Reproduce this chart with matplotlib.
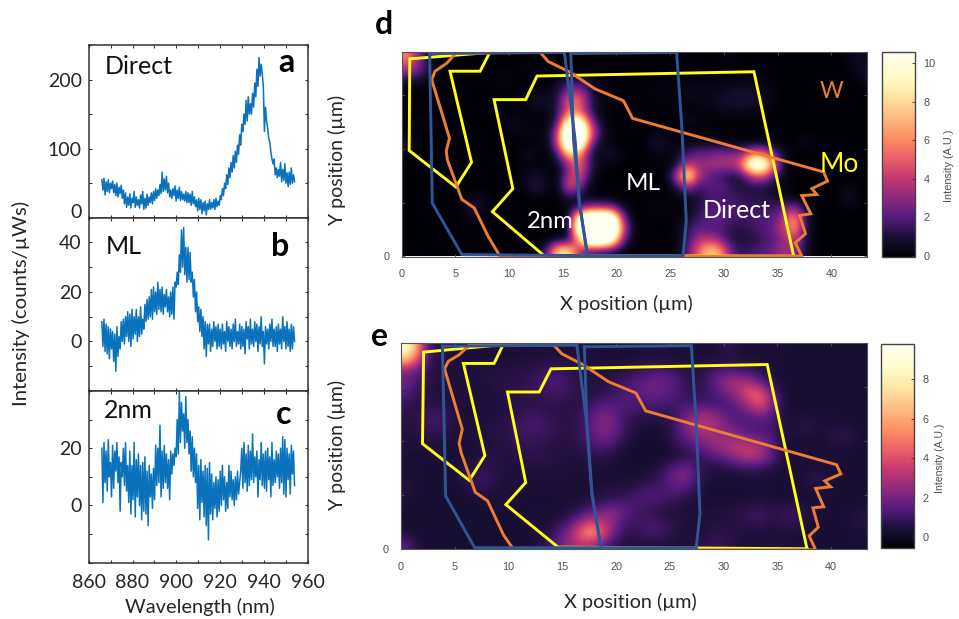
import numpy as np
import matplotlib
matplotlib.use("Agg")
import matplotlib.pyplot as plt
from matplotlib.colors import LinearSegmentedColormap
from matplotlib.ticker import MultipleLocator, FixedLocator

W, H = 959, 619
SANS = "Lato"
ARIAL = "Liberation Sans"

spec_direct = [55,40,57,33,52,38,55,36,50,42, 53,36,48,32,50,30,44,35,47,28,
 40,20,36,15,30,18,35,14,28,22, 38,15,30,18,26,14,33,20,38,12,
 28,14,34,18,30,22,36,20,38,25, 42,28,40,32,48,35,66,38,56,40,
 60,36,50,30,40,28,42,32,46,24, 40,28,44,25,38,26,34,24,38,22,
 36,22,34,18,38,20,30,16,26,10, 28,12,26,6,22,10,24,4,20,12,
 26,12,22,14,26,12,28,16,24,18, 32,26,42,32,50,42,62,48,72,58,
 80,66,90,72,96,80,105,92,120,105, 135,125,150,135,170,140,175,150,165,150,
 180,160,195,175,215,190,232,205,222,208, 190,125,160,140,130,115,110,95,85,78,
 85,62,72,58,70,60,80,52,70,54, 78,50,65,45,66,48,72,50,62,52]

spec_ml = [8,-2,9,-4,7,-5,6,-7,5,-3, 4,-8,3,-12,6,-6,2,-3,8,0,
 9,-1,10,2,12,0,11,-2,13,1, 10,3,13,0,10,2,14,3,9,5,
 15,8,17,9,18,10,21,9,22,12, 20,11,24,13,21,12,22,11,19,14,
 21,12,18,10,20,11,22,9,24,22, 28,23,35,28,45,30,46,27,38,24,
 38,25,36,24,28,18,25,12,20,8, 14,4,13,2,10,-3,8,-6,7,-1,
 7,-4,5,-2,8,0,6,-3,7,-2, 5,-3,7,-1,4,-4,8,0,6,-2,
 5,-3,7,0,9,-2,4,-1,7,-3, 6,-2,5,-5,8,1,6,-3,9,-1,
 5,-2,8,0,7,-4,6,-1,10,-2, 4,-9,6,-1,5,-3,7,0,9,-2,
 5,-2,6,-4,7,-1,5,-3,10,0, 6,-3,8,-2,5,-4,7,-3,6,0]

spec_2nm = [20,1,22,8,19,5,23,10,15,3, 21,6,19,12,22,8,17,-2,15,10,
 20,7,22,5,14,1,19,-3,14,2, 22,-4,16,3,18,0,14,-5,15,-2,
 17,-3,12,-7,14,3,11,-1,13,2, 21,7,20,8,28,3,19,6,21,8,
 18,6,16,2,19,11,18,14,20,17, 30,18,40,22,36,26,32,20,38,22,
 30,18,26,12,24,10,20,8,18,-1, 14,-5,16,1,12,-4,14,-7,13,-12,
 15,-3,11,-5,8,-1,10,-4,9,-2, 12,0,14,2,10,-2,8,-1,14,3,
 12,2,9,0,10,2,12,4,8,12, 20,6,22,8,18,5,21,7,19,9,
 25,8,17,10,19,3,16,9,22,7, 18,6,19,5,20,9,17,3,22,7,
 16,8,19,10,18,6,20,8,24,4, 23,3,20,9,18,4,21,11,19,7]

map_d = [
 [6,3,.6,.1,0,0,0,0,0,0, 0,0,0,0,0,0,0,0,0,0, 0,0,0,0,0,0,0,0,0,.2, .3,0,0,0,0,0,0,0,0,0, 0,.3,.6,.3],
 [4,3,1,.2,0,0,0,0,0,0, 0,.3,.1,0,0,0,0,0,0,0, 0,0,0,0,0,0,0,0,0,0, 0,0,0,0,0,0,0,0,0,0, 0,.1,.5,.8],
 [1.2,1,.3,0,0,0,0,0,.1,.5, 0,.1,0,0,.4,.8,1,.5,.2,.1, .1,.1,0,.1,.2,.1,.2,.2,.2,.3, .2,.2,.2,.2,.1,0,0,0,0,0, 0,0,.2,1],
 [.1,0,0,0,0,0,0,0,0,0, 0,.1,.1,.1,.8,2.8,3,1,.2,.1, 0,0,0,.2,.2,.2,.4,.4,.3,.3, .5,.7,.6,.5,.2,0,0,0,0,0, 0,0,0,.2],
 [0,0,0,0,0,0,0,0,0,0, 0,.3,1,.6,1.1,5.5,6,1.4,.3,.1, 0,0,.1,.1,.1,.2,.3,.3,.4,.7, 1,1.1,1,.7,.2,0,0,0,0,0, 0,0,0,0],
 [0,0,0,0,0,0,0,0,0,0, 0,.1,.2,.2,1.3,5,5,1.4,.3,.1, 0,0,0,.1,.1,.1,.2,.1,.2,.3, .3,.3,.3,.3,.1,0,0,0,0,0, 0,0,0,0],
 [0,.3,.5,0,0,0,0,0,0,.3, .6,.1,.1,.1,1.4,11,12,3.5,.3,.1, 0,0,0,0,0,0,.6,.3,.1,.1, .1,.1,.1,.1,0,0,0,0,0,0, 0,0,0,0],
 [0,0,0,0,0,0,0,0,0,0, .2,.3,.4,.2,4,16,16,6,1,.1, .1,0,0,.1,.2,0,0,0,0,0, 0,0,0,0,.1,0,0,0,0,0, 0,0,0,0],
 [1.2,.1,0,0,0,0,0,0,0,0, 0,0,.2,.1,4,15,14,3,.4,.1, 0,0,0,1,.7,0,.3,.5,.5,.4, .3,.2,.2,.3,.2,0,0,.6,.2,0, 0,0,0,0],
 [.3,0,0,0,0,0,0,0,0,0, 0,.6,.3,.1,1.5,8,6,1,.4,1, .1,0,0,.2,.1,.5,1.8,2.4,2.5,3, 2.8,3,5,6,2.5,.6,0,0,0,0, 0,0,0,0],
 [0,0,0,0,0,0,0,0,0,0, 0,.1,.1,.1,.2,3,6,1.5,.3,.1, 0,0,.1,.1,.1,.5,4,3,3.4,3.6, 3.8,5,13,13,6,.6,0,0,0,0, 0,0,0,0],
 [0,0,0,0,0,0,0,0,0,0, 0,.3,.8,.2,.1,3.5,5,.8,.1,0, 0,0,0,0,0,3.5,11,4,2.2,1.6, 1,1,4,5,2,.4,0,0,0,0, 0,0,0,0],
 [0,0,0,0,0,0,0,0,0,0, 0,.3,1.5,.3,.1,5,3,.3,0,0, 0,0,0,0,0,1,3.5,1.6,2,2.2, 1.4,1,1,1,.7,.2,0,0,0,0, 0,.3,0,0],
 [0,0,0,0,0,0,.3,.3,0,0, 0,0,.1,.1,.1,1,.6,.1,0,0, 0,.1,.1,0,0,.2,.5,1,1.6,1.8, 1.6,1.4,1.3,1.2,1,.5,0,0,0,0, 0,.8,.2,0],
 [0,0,0,0,0,0,1.5,.5,0,0, 0,0,0,0,0,.2,1.4,3,3,2.5, .6,0,0,.3,.2,.1,.3,1,1.9,2, 1.9,1.7,1.5,1.5,1.5,2,3,.8,0,0, 0,.2,0,0],
 [0,0,0,0,0,0,.3,.1,0,0, 0,0,0,0,.1,.3,12,16,16,15, 3,.1,0,.1,.1,.1,.7,1.6,2.3,2.3, 1.8,1.6,1.7,1.9,2,4,7,1,0,0, 0,0,0,0],
 [0,0,0,0,0,0,0,0,0,0, 0,0,0,0,.1,.3,13,16,16,16, 5,.2,.1,0,0,.2,1.3,2.2,1.9,1.8, 1.2,1.2,1.5,1.9,2.4,4,7,1.2,0,0, 0,0,0,0],
 [0,0,0,0,0,0,0,0,0,0, 0,0,0,.1,.2,.6,7,15,15,12, 2.5,.2,.1,0,0,.1,1.3,3.5,4,3, 1.2,.9,1,1.5,2,3,4,.8,0,0, 0,0,0,0],
 [.1,.1,0,0,0,0,0,0,0,0, 0,0,.2,2,9,9,3,1.5,1,.6, .2,0,0,0,0,.1,2,5,8,7, 2.5,1.4,1.7,2,2.5,3.5,3.2,.8,0,0, 0,0,0,0],
]

map_e = [
 [9,6,1.2,.6,.5,.45,.45,.45,.45,.45, .45,.45,.45,.45,.45,.45,.5,.5,.45,.45, .45,.45,.45,.55,.5,.45,.5,.45,.45,.45, .9,.5,.45,.45,.45,.45,.4,.4,.4,.4, .4,.4,.4,.4],
 [6.5,4,1,.6,.55,.5,.5,.5,.5,.5, .5,.5,.55,.6,.6,.55,.55,.55,.5,.5, .5,.5,.55,.6,.6,.5,.5,.5,.55,.55, .55,.5,.5,.5,.45,.45,.4,.4,.4,.4, .4,.4,.4,.4],
 [2,1.5,.8,.55,.5,.5,.5,.55,.6,.6, .6,.7,.8,1,1,.8,.6,.55,.55,.55, .6,.7,1,1.2,1.2,.9,.6,.55,.8,1.3, 1.5,1.2,.9,.7,.5,.45,.4,.4,.4,.4, .4,.4,.4,.4],
 [2,1.2,.7,.55,.5,.5,.5,.55,.6,.7, .7,.8,1,1.2,1.3,1,.7,.6,.6,.7, 1,1.3,1.6,1.9,1.9,1.5,.8,.7,1.1,2, 2.6,3,2.6,1.4,.55,.45,.4,.4,.4,.4, .4,.4,.4,.4],
 [1.4,.8,.6,.55,.55,.5,.5,.5,.55,.6, .7,.8,.9,1,1.1,.9,.7,.6,.7,.9, 1.1,1.4,1.7,1.9,1.7,1.3,.9,.7,1,1.5, 2.2,3,4.6,4.2,1.5,.5,.4,.4,.4,.4, .4,.4,.4,.4],
 [.9,.7,.7,.6,.55,.5,.5,.5,.5,.55, .6,.7,.7,.7,.8,.7,.7,.8,1.2,1.4, 1.4,1.4,1.3,1.3,1.2,1.1,1.1,1.1,1.1,1.1, 1.4,2,3.2,4.6,2.2,.55,.4,.4,.4,.4, .4,.4,.4,.4],
 [.7,.7,1,1.1,.7,.5,.45,.5,.55,.55, .7,.9,1,.8,.7,.7,.8,1.3,2,2, 1.3,.9,.8,.8,.7,.9,1.8,2.4,2.6,2.1, 1.4,1.4,1.7,2.1,1.4,.55,.45,.45,.45,.5, .45,.45,.4,.4],
 [.6,.7,1,1.1,.7,.5,.5,.55,.6,.7, .9,1.1,1.2,1,.8,.7,.8,1.4,2.2,2.1, 1.2,.7,.55,.5,.55,1.1,2.2,3.2,3.2,2.5, 2,1.4,1.3,1.3,1.1,.6,.45,.8,.55,.45, .45,.45,.45,.4],
 [.55,.6,.7,.7,.55,.5,.5,.55,.6,.7, .9,1,1,.9,.8,.7,.8,1.3,2,1.9, 1,.55,.35,.3,.45,.9,1.8,2.3,2.7,2.7, 2.5,2.2,1.6,1.5,1.1,.6,.45,.5,.45,.5, .8,.8,.5,.4],
 [.5,.5,.55,.55,.5,.45,.45,.5,.55,.6, .7,.8,.8,.7,.6,.6,.7,1,1.3,1.1, .6,.35,.3,.3,.35,.7,1.1,1.5,2.1,2.7, 3,3.4,3.4,2.8,1.6,.55,.45,.45,.45,.45, .5,.5,.45,.4],
 [.5,.45,.45,.45,.45,.45,.5,.6,.7,.6, .6,.7,.8,.8,.6,.55,.55,.6,.7,.55, .45,.3,.3,.3,.35,.5,.6,.9,1.1,1.4, 2,2.8,3.1,2.8,1.5,.5,.45,.45,.45,.45, .45,.45,.4,.4],
 [.45,.45,.45,.45,.45,.5,.6,.8,.7,.55, .5,.55,.55,.55,.5,.5,.5,.5,.5,.45, .4,.4,.4,.5,.8,1.5,2.1,1.1,.55,.55, .6,.8,.9,.8,.55,.45,.45,.45,.55,.45, .45,.4,.4,.4],
 [.5,.45,.4,.45,.45,.55,.9,1,.8,.55, .5,.5,.5,.5,.5,.5,.45,.45,.45,.45, .45,.45,.5,.8,1.2,2,2.2,1.1,.5,.45, .45,.45,.45,.45,.45,.45,.45,.5,.8,.5, .45,.4,.4,.4],
 [.6,.45,.4,.4,.4,.45,.6,.7,.6,.5, .5,.45,.45,.45,.45,.45,.45,.45,.5,.6, .6,.8,1,1.2,1.2,1.4,1.2,.6,.45,.4, .4,.4,.45,.45,.4,.4,.45,.45,.5,.45, .45,.4,.4,.4],
 [.5,.4,.4,.4,.4,.4,.45,.5,.5,.45, .45,.45,.45,.45,.45,.45,.5,.55,.6,.9, 1,1.2,1.4,1.3,1.1,.9,.6,.5,.45,.4, .45,.45,.5,.5,.5,.45,.45,.45,.45,.45, .45,.4,.4,.4],
 [.4,.4,.4,.4,.4,.4,.4,.4,.4,.4, .45,.45,.45,.45,.45,.5,.8,1.3,1.9,2.4, 1.9,1.2,.9,.7,.55,.5,.5,.5,.5,.55, .55,.7,.9,1,.7,.8,1,.6,.5,.45, .45,.45,.6,.6],
 [.4,.4,.4,.4,.4,.4,.4,.4,.4,.4, .4,.45,.45,.5,.6,1,2.2,3.6,3.2,2.6, 1.4,1,1.1,1.2,.9,.7,.55,.5,.5,.55, .6,.7,.8,1,.6,.8,.9,.55,.45,.45, .4,.45,.6,.6],
 [.45,.4,.4,.4,.4,.4,.4,.4,.4,.4, .4,.4,.45,.55,1.2,2.2,4.2,6,5,2.4, 1,.8,1,1.3,1,.6,.5,.5,.6,.8, .7,.55,.5,.5,.45,.5,.5,.45,.45,.45, .4,.45,.45,.45],
 [1.5,.6,.4,.4,.4,.4,.4,.4,.4,.4, .4,.4,.5,.8,1.5,2.5,3,3,2,1, .6,.55,.55,.5,.5,.5,.5,.6,.8,.9, .7,.55,.5,.45,.55,.55,.45,.45,.45,.45, .45,.45,.45,.45],
]

yellow_d_inner = [(36.5,0),(32.8,17.2),(12.6,16.8),(11.55,14.6),(8.6,14.6),(10.35,6.3),(8.45,4.15),(13.25,0.05)]
yellow_d_outer = [(8.2,19.0),(7.3,17.25),(4.5,17.25),(6.5,8.75),(5.05,6.45),(0.7,9.85),(0.75,18.4)]
blue_d_left = [(2.6,18.9),(15.15,19.0),(16.15,10.85),(16.55,4.95),(17.3,0.05),(5.6,0.15),(2.85,4.95)]
blue_d_right = [(15.75,18.9),(25.6,19.0),(26.1,11.8),(26.5,3.25),(26.2,0.05),(17.3,0.05),(16.55,4.95),(16.0,10.85)]
orange_d = [(12.9,19.0),(13.65,18.15),(15.7,17.15),(18.0,15.6),(20.65,14.5),(21.5,12.85),(39.3,7.85),(39.65,7.0),
 (38.2,6.3),(38.65,5.75),(37.25,5.65),(38.1,3.95),(37.05,3.8),(37.6,2.1),(36.65,1.25),(37.25,0),(9.15,0),(8.05,1.85),
 (6.75,4.5),(5.6,5.3),(4.25,9.0),(4.15,9.8),(4.45,11.0),(2.8,16.45),(3.1,17.25),(4.2,18.0),(5.05,18.95)]

yellow_e_inner = [(37.75,0),(34.05,17.1),(13.95,16.7),(12.85,14.55),(9.9,14.55),(11.6,6.15),(9.75,4.1),(14.6,0.15)]
yellow_e_outer = [(9.5,18.95),(8.65,17.2),(5.8,17.2),(7.8,8.65),(6.35,6.35),(2.0,9.75),(2.1,18.25)]
blue_e_left = [(3.85,18.8),(16.35,18.9),(17.35,11.0),(17.75,5.1),(18.6,0.1),(6.85,0.1),(4.15,4.9)]
blue_e_right = [(17.05,18.75),(27.0,18.85),(27.45,11.6),(27.8,3.25),(27.45,0.1),(18.6,0.1),(17.75,5.1),(17.3,11.0)]
orange_e = [(14.2,18.9),(14.95,18.1),(16.9,17.1),(19.3,15.5),(21.85,14.45),(22.75,12.8),(40.5,7.8),(40.9,6.95),
 (39.4,6.3),(39.95,5.75),(38.55,5.6),(39.3,3.9),(38.3,3.8),(38.8,2.0),(37.95,1.2),(38.55,-0.1),(10.5,-0.1),(9.55,1.25),
 (8.05,4.45),(6.9,5.25),(5.6,8.9),(5.4,9.8),(5.7,11.1),(4.05,16.7),(4.4,17.4),(5.4,18.0),(6.35,18.9)]

wl_ticks = [860,880,900,920,940,960]
map_x_ticks = [0,5,10,15,20,25,30,35,40]

BLUE = "#0a72bd"; YEL = "#ffff1a"; NAVY = "#2f5597"; ORG = "#ed7d31"
cmap = LinearSegmentedColormap.from_list("map", [
    (0.0,"#000004"),(0.09,"#170f32"),(0.19,"#541a7d"),(0.29,"#8f2a7e"),(0.39,"#c93a6f"),
    (0.48,"#ea5f68"),(0.57,"#fd8a60"),(0.68,"#febb80"),(0.79,"#fde7a6"),(0.88,"#fffbc8"),(1.0,"#fffff0")])

fig = plt.figure(figsize=(W/100, H/100), dpi=100, facecolor="white")

def make_ax(l, t, r, b):
    return fig.add_axes([l/W, 1-b/H, (r-l)/W, (b-t)/H])

def label(x, y, s, **kw):
    kw.setdefault("family", SANS)
    kw.setdefault("ha", "center"); kw.setdefault("va", "center")
    fig.text(x/W, 1-y/H, s, **kw)

x_edges = [88.7, 307.7]
rows = [(45, 217.7, spec_direct, (0,250), [0,100,200], 50),
        (217.7, 391, spec_ml, (-20,50), [0,20,40], 10),
        (391, 562.7, spec_2nm, (-20,40), [0,20], 10)]
for i, (t, b, y, lim, maj, minor) in enumerate(rows):
    ax = make_ax(x_edges[0], t, x_edges[1], b)
    ax.plot(np.linspace(866, 954, len(y)), y, color=BLUE, lw=1.1)
    ax.set_xlim(860, 960); ax.set_ylim(*lim)
    ax.yaxis.set_major_locator(FixedLocator(maj))
    ax.yaxis.set_minor_locator(MultipleLocator(minor))
    ax.xaxis.set_major_locator(FixedLocator(wl_ticks))
    ax.xaxis.set_minor_locator(MultipleLocator(10))
    ax.tick_params(which="both", direction="in", top=True, right=True, length=2.5, width=0.8, color="#333333")
    ax.tick_params(axis="y", labelsize=14, labelcolor="#262626", pad=5)
    ax.tick_params(axis="x", labelsize=14, labelcolor="#262626", pad=8)
    for lab in ax.get_xticklabels()+ax.get_yticklabels():
        lab.set_family(SANS)
    if i == 0:
        ax.get_yticklabels()[0].set_va("baseline")
    if i < 2:
        ax.tick_params(axis="x", labelbottom=False)
    for s in ax.spines.values():
        s.set_color("#333333"); s.set_linewidth(1.1)

label(139, 66, "Direct", fontsize=18, color="#111111")
label(124, 247, "ML", fontsize=18, color="#111111")
label(128, 411, "2nm", fontsize=18, color="#111111")
label(286, 62, "a", fontsize=23, fontweight="bold", color="black")
label(280, 247, "b", fontsize=23, fontweight="bold", color="black")
label(284, 415, "c", fontsize=23, fontweight="bold", color="black")
label(384, 24, "d", fontsize=23, fontweight="bold", color="black")
label(380, 336, "e", fontsize=23, fontweight="bold", color="black")
label(21, 303, "Intensity (counts/µWs)", fontsize=14.6, rotation=90, color="#262626")
label(200, 607, "Wavelength (nm)", fontsize=14.4, color="#262626")

def heat(box, data, vmin, vmax, cbox, cticks, overlays):
    ax = make_ax(*box)
    im = ax.imshow(np.array(data), cmap=cmap, vmin=vmin, vmax=vmax, extent=(0,44,0,19),
                   origin="upper", aspect="auto", interpolation="bicubic")
    ax.set_xlim(0, 43.3); ax.set_ylim(-0.05, 19.07)
    for pts, col in overlays:
        p = np.array(pts + pts[:1])
        ax.plot(p[:,0], p[:,1], color=col, lw=2.1, solid_joinstyle="miter")
    ax.set_xticks(map_x_ticks)
    ax.set_yticks([0,5,10,15]); ax.set_yticklabels(["0","","",""])
    ax.tick_params(direction="in", length=2.5, width=0.6, color="#555555", top=True, right=True,
                   labelsize=7.8, labelcolor="#505050", pad=9)
    for lab in ax.get_xticklabels()+ax.get_yticklabels():
        lab.set_family(ARIAL)
    for s in ax.spines.values():
        s.set_color("#555555"); s.set_linewidth(0.8)
    cax = make_ax(*cbox)
    cb = fig.colorbar(im, cax=cax, ticks=cticks)
    cb.ax.tick_params(direction="in", length=2.5, width=0.6, color="#333333", labelsize=7.8, labelcolor="#505050", pad=6)
    for lab in cb.ax.get_yticklabels():
        lab.set_family(ARIAL)
    cb.outline.set_edgecolor("#444444"); cb.outline.set_linewidth(1.0)
    return ax

heat((401.7,51.7,866.7,256.7), map_d, -0.05, 10.6, (881.7,51.7,915,256.7), [0,2,4,6,8,10],
     [(yellow_d_inner,YEL),(yellow_d_outer,YEL),(orange_d,ORG),(blue_d_left,NAVY),(blue_d_right,NAVY)])
heat((401,343.3,866.7,549.3), map_e, -0.56, 9.79, (881,344,914.3,548.3), [0,2,4,6,8],
     [(yellow_e_inner,YEL),(yellow_e_outer,YEL),(orange_e,ORG),(blue_e_left,NAVY),(blue_e_right,NAVY)])

label(949, 166, "Intensity (A.U.)", fontsize=7.8, rotation=90, family=ARIAL, color="#505050")
label(940, 458, "Intensity (A.U.)", fontsize=7.6, rotation=90, family=ARIAL, color="#505050")

label(337, 160, "Y position (µm)", fontsize=14, rotation=90, color="#262626")
label(337, 445, "Y position (µm)", fontsize=14, rotation=90, color="#262626")
label(626, 304, "X position (µm)", fontsize=14.3, color="#262626")
label(630, 602, "X position (µm)", fontsize=14.3, color="#262626")

label(550, 221, "2nm", fontsize=17.2, color="white")
label(643, 184, "ML", fontsize=17.5, color="white")
label(737, 210, "Direct", fontsize=18, color="white")
label(832, 91, "W", fontsize=16.5, color=ORG)
label(839, 165, "Mo", fontsize=19, color=YEL)

fig.savefig("out.png", dpi=100)
